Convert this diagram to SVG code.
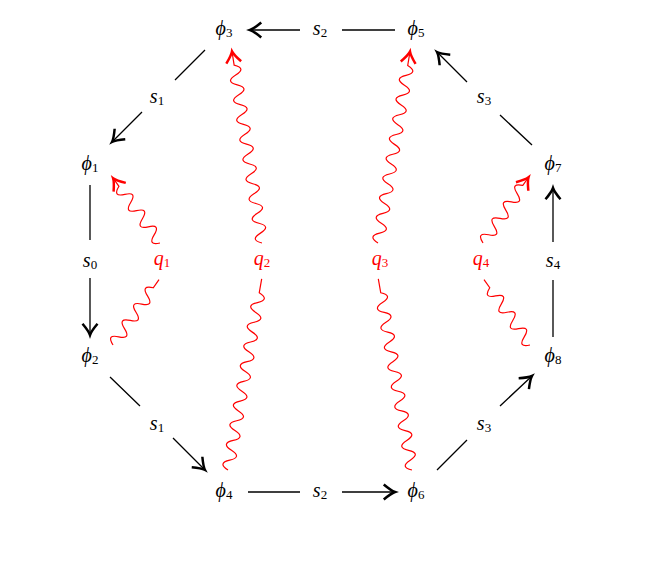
<svg xmlns="http://www.w3.org/2000/svg" width="664" height="571" viewBox="0 0 664 571">
<style>
.l{font-family:"Liberation Serif",serif;font-style:italic;font-size:20px;text-anchor:middle;dominant-baseline:central}
.s{font-size:13px;font-style:normal}
.r{fill:#f00}
.e{stroke:#000;stroke-width:1.3;fill:none}
.w{stroke:#f00;stroke-width:1.2;fill:none}
</style>
<defs>
<marker id="a" markerUnits="userSpaceOnUse" markerWidth="20" markerHeight="20" viewBox="-12 -8 14 16" refX="0" refY="0" orient="auto" overflow="visible"><path d="M-9,-6 Q-3,-1 0,0 Q-3,1 -9,6" fill="none" stroke="#000" stroke-width="2"/></marker>
<marker id="b" markerUnits="userSpaceOnUse" markerWidth="20" markerHeight="20" viewBox="-12 -8 14 16" refX="0" refY="0" orient="auto" overflow="visible"><path d="M-9,-6 Q-3,-1 0,0 Q-3,1 -9,6" fill="none" stroke="#f00" stroke-width="2"/></marker>
<path id="w80" d="M0,0 q5,-12 10,0 t10,0 t10,0 t10,0 t10,0 t10,0 t10,0 h10"/>
<path id="w195" d="M0,0 q5,-12 10,0 t10,0 t10,0 t10,0 t10,0 t10,0 t10,0 t10,0 t10,0 t10,0 t10,0 t10,0 t10,0 t10,0 t10,0 t10,0 t10,0 t10,0 h14"/>
</defs>
<g id="connectors">
<path class="e" d="M395,30H342M300,30H250" marker-end="url(#a)"/>
<path class="e" d="M205,50L175,80M142,112L112,142" marker-end="url(#a)"/>
<path class="e" d="M90,185V240M90,278V335" marker-end="url(#a)"/>
<path class="e" d="M110,377L140,406M173,438L205,470" marker-end="url(#a)"/>
<path class="e" d="M248,492H300M342,492H395" marker-end="url(#a)"/>
<path class="e" d="M437,470L467,440M500,406L532,376" marker-end="url(#a)"/>
<path class="e" d="M553,337V280M553,242V188" marker-end="url(#a)"/>
<path class="e" d="M532,145L500,115M467,82L437,52" marker-end="url(#a)"/>
<use href="#w80" class="w" transform="translate(113,345) rotate(-54.9)"/>
<use href="#w80" class="w" transform="translate(160,243) rotate(-125.9)" marker-end="url(#b)"/>
<use href="#w195" class="w" transform="translate(228,470) rotate(-80)"/>
<use href="#w195" class="w" transform="translate(262,243) rotate(-98.9)" marker-end="url(#b)"/>
<use href="#w195" class="w" transform="translate(412,470) rotate(-100)"/>
<use href="#w195" class="w" transform="translate(378,243) rotate(-80.5)" marker-end="url(#b)"/>
<use href="#w80" class="w" transform="translate(530,345) rotate(-125.1)"/>
<use href="#w80" class="w" transform="translate(483,243) rotate(-55.3)" marker-end="url(#b)"/>
<text class="l" x="320" y="28">s<tspan class="s" dy="4">2</tspan></text>
<text class="l" x="157" y="96">s<tspan class="s" dy="4">1</tspan></text>
<text class="l" x="484" y="96">s<tspan class="s" dy="4">3</tspan></text>
<text class="l" x="90" y="260">s<tspan class="s" dy="4">0</tspan></text>
<text class="l" x="553" y="260">s<tspan class="s" dy="4">4</tspan></text>
<text class="l" x="157" y="423">s<tspan class="s" dy="4">1</tspan></text>
<text class="l" x="484" y="423">s<tspan class="s" dy="4">3</tspan></text>
<text class="l" x="320" y="490">s<tspan class="s" dy="4">2</tspan></text>
<text class="l r" x="162" y="258">q<tspan class="s" dy="4">1</tspan></text>
<text class="l r" x="262" y="258">q<tspan class="s" dy="4">2</tspan></text>
<text class="l r" x="380" y="258">q<tspan class="s" dy="4">3</tspan></text>
<text class="l r" x="481" y="258">q<tspan class="s" dy="4">4</tspan></text>
</g>
<g id="phi3"><text class="l" x="224" y="28">ϕ<tspan class="s" dy="4">3</tspan></text></g>
<g id="phi5"><text class="l" x="416" y="28">ϕ<tspan class="s" dy="4">5</tspan></text></g>
<g id="phi1"><text class="l" x="90" y="163">ϕ<tspan class="s" dy="4">1</tspan></text></g>
<g id="phi7"><text class="l" x="553" y="163">ϕ<tspan class="s" dy="4">7</tspan></text></g>
<g id="phi2"><text class="l" x="90" y="355">ϕ<tspan class="s" dy="4">2</tspan></text></g>
<g id="phi8"><text class="l" x="553" y="355">ϕ<tspan class="s" dy="4">8</tspan></text></g>
<g id="phi4"><text class="l" x="224" y="490">ϕ<tspan class="s" dy="4">4</tspan></text></g>
<g id="phi6"><text class="l" x="416" y="490">ϕ<tspan class="s" dy="4">6</tspan></text></g>
</svg>
